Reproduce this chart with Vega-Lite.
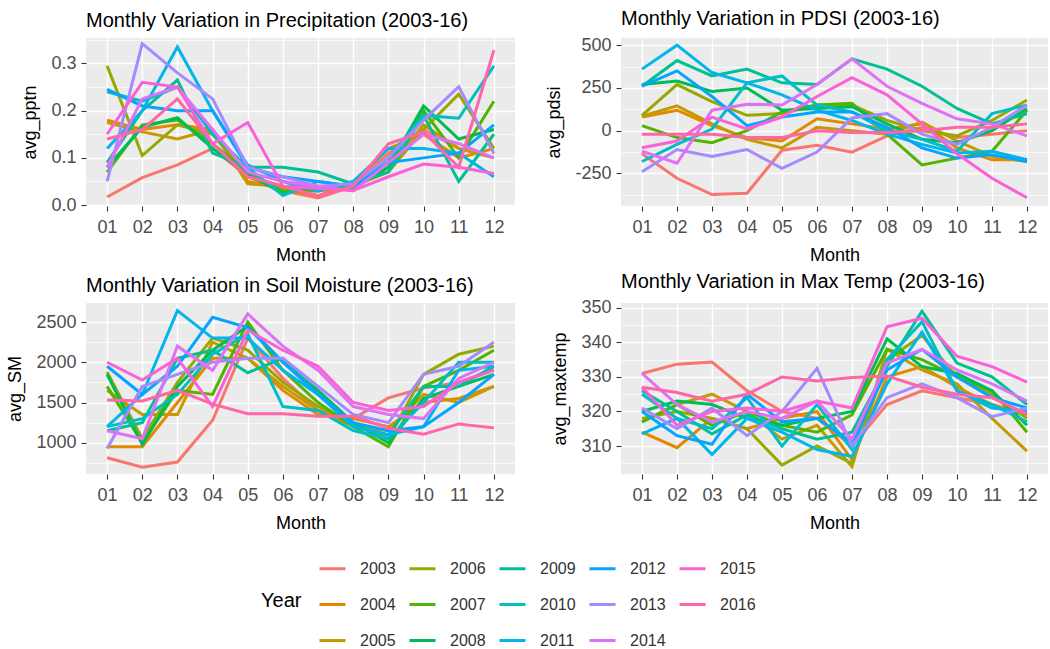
{
  "$schema": "https://vega.github.io/schema/vega-lite/v6.json",
  "padding": {"left": 6, "top": 9, "right": 0, "bottom": 0},
  "background": "white",
  "datasets": {
    "clim": [
      {"Year":"2003","Month":"01","pptn":0.017,"pdsi":-135,"SM":813,"maxtemp":331},
      {"Year":"2003","Month":"02","pptn":0.058,"pdsi":-278,"SM":697,"maxtemp":333.7},
      {"Year":"2003","Month":"03","pptn":0.085,"pdsi":-373,"SM":760,"maxtemp":334.3},
      {"Year":"2003","Month":"04","pptn":0.12,"pdsi":-365,"SM":1280,"maxtemp":326},
      {"Year":"2003","Month":"05","pptn":0.06,"pdsi":-114,"SM":2300,"maxtemp":320},
      {"Year":"2003","Month":"06","pptn":0.03,"pdsi":-85,"SM":1800,"maxtemp":318},
      {"Year":"2003","Month":"07","pptn":0.015,"pdsi":-125,"SM":1400,"maxtemp":310},
      {"Year":"2003","Month":"08","pptn":0.04,"pdsi":-30,"SM":1300,"maxtemp":322},
      {"Year":"2003","Month":"09","pptn":0.11,"pdsi":20,"SM":1557,"maxtemp":326},
      {"Year":"2003","Month":"10","pptn":0.16,"pdsi":-40,"SM":1681,"maxtemp":324},
      {"Year":"2003","Month":"11","pptn":0.12,"pdsi":-20,"SM":1750,"maxtemp":322},
      {"Year":"2003","Month":"12","pptn":0.10,"pdsi":0,"SM":1913,"maxtemp":319},
      {"Year":"2004","Month":"01","pptn":0.18,"pdsi":80,"SM":950,"maxtemp":314},
      {"Year":"2004","Month":"02","pptn":0.16,"pdsi":120,"SM":950,"maxtemp":309.5},
      {"Year":"2004","Month":"03","pptn":0.17,"pdsi":30,"SM":1500,"maxtemp":318},
      {"Year":"2004","Month":"04","pptn":0.16,"pdsi":-40,"SM":2050,"maxtemp":315},
      {"Year":"2004","Month":"05","pptn":0.05,"pdsi":-60,"SM":2050,"maxtemp":318},
      {"Year":"2004","Month":"06","pptn":0.035,"pdsi":70,"SM":1650,"maxtemp":320},
      {"Year":"2004","Month":"07","pptn":0.02,"pdsi":40,"SM":1350,"maxtemp":306},
      {"Year":"2004","Month":"08","pptn":0.045,"pdsi":10,"SM":1300,"maxtemp":330},
      {"Year":"2004","Month":"09","pptn":0.12,"pdsi":40,"SM":1200,"maxtemp":333},
      {"Year":"2004","Month":"10","pptn":0.15,"pdsi":-100,"SM":1500,"maxtemp":327},
      {"Year":"2004","Month":"11","pptn":0.10,"pdsi":-170,"SM":1550,"maxtemp":322},
      {"Year":"2004","Month":"12","pptn":0.12,"pdsi":-170,"SM":1700,"maxtemp":319},
      {"Year":"2005","Month":"01","pptn":0.175,"pdsi":85,"SM":1650,"maxtemp":317},
      {"Year":"2005","Month":"02","pptn":0.155,"pdsi":145,"SM":1350,"maxtemp":322},
      {"Year":"2005","Month":"03","pptn":0.14,"pdsi":40,"SM":1350,"maxtemp":325},
      {"Year":"2005","Month":"04","pptn":0.16,"pdsi":-50,"SM":2250,"maxtemp":320},
      {"Year":"2005","Month":"05","pptn":0.045,"pdsi":-100,"SM":2050,"maxtemp":312},
      {"Year":"2005","Month":"06","pptn":0.04,"pdsi":20,"SM":1700,"maxtemp":316},
      {"Year":"2005","Month":"07","pptn":0.03,"pdsi":0,"SM":1400,"maxtemp":304},
      {"Year":"2005","Month":"08","pptn":0.05,"pdsi":-20,"SM":1200,"maxtemp":338},
      {"Year":"2005","Month":"09","pptn":0.08,"pdsi":50,"SM":1150,"maxtemp":332},
      {"Year":"2005","Month":"10","pptn":0.17,"pdsi":-60,"SM":1600,"maxtemp":328},
      {"Year":"2005","Month":"11","pptn":0.12,"pdsi":-150,"SM":1500,"maxtemp":318},
      {"Year":"2005","Month":"12","pptn":0.10,"pdsi":-180,"SM":1700,"maxtemp":308.5},
      {"Year":"2006","Month":"01","pptn":0.295,"pdsi":90,"SM":1880,"maxtemp":318},
      {"Year":"2006","Month":"02","pptn":0.105,"pdsi":270,"SM":1050,"maxtemp":320},
      {"Year":"2006","Month":"03","pptn":0.17,"pdsi":170,"SM":1750,"maxtemp":318},
      {"Year":"2006","Month":"04","pptn":0.15,"pdsi":90,"SM":2300,"maxtemp":315},
      {"Year":"2006","Month":"05","pptn":0.06,"pdsi":100,"SM":2150,"maxtemp":304.5},
      {"Year":"2006","Month":"06","pptn":0.04,"pdsi":150,"SM":1750,"maxtemp":310},
      {"Year":"2006","Month":"07","pptn":0.035,"pdsi":150,"SM":1450,"maxtemp":305},
      {"Year":"2006","Month":"08","pptn":0.04,"pdsi":60,"SM":1250,"maxtemp":335},
      {"Year":"2006","Month":"09","pptn":0.07,"pdsi":0,"SM":1050,"maxtemp":342},
      {"Year":"2006","Month":"10","pptn":0.16,"pdsi":-30,"SM":1850,"maxtemp":330},
      {"Year":"2006","Month":"11","pptn":0.235,"pdsi":60,"SM":2100,"maxtemp":325},
      {"Year":"2006","Month":"12","pptn":0.12,"pdsi":180,"SM":2200,"maxtemp":318},
      {"Year":"2007","Month":"01","pptn":0.07,"pdsi":30,"SM":1700,"maxtemp":317},
      {"Year":"2007","Month":"02","pptn":0.17,"pdsi":-40,"SM":1000,"maxtemp":322},
      {"Year":"2007","Month":"03","pptn":0.18,"pdsi":-70,"SM":1650,"maxtemp":316},
      {"Year":"2007","Month":"04","pptn":0.13,"pdsi":0,"SM":1600,"maxtemp":320},
      {"Year":"2007","Month":"05","pptn":0.07,"pdsi":110,"SM":2500,"maxtemp":316},
      {"Year":"2007","Month":"06","pptn":0.03,"pdsi":150,"SM":1900,"maxtemp":314},
      {"Year":"2007","Month":"07","pptn":0.03,"pdsi":160,"SM":1500,"maxtemp":319},
      {"Year":"2007","Month":"08","pptn":0.04,"pdsi":-20,"SM":1200,"maxtemp":338},
      {"Year":"2007","Month":"09","pptn":0.09,"pdsi":-200,"SM":950,"maxtemp":335},
      {"Year":"2007","Month":"10","pptn":0.2,"pdsi":-160,"SM":1700,"maxtemp":330},
      {"Year":"2007","Month":"11","pptn":0.1,"pdsi":-120,"SM":1900,"maxtemp":326},
      {"Year":"2007","Month":"12","pptn":0.22,"pdsi":120,"SM":2150,"maxtemp":314},
      {"Year":"2008","Month":"01","pptn":0.08,"pdsi":270,"SM":1850,"maxtemp":320},
      {"Year":"2008","Month":"02","pptn":0.165,"pdsi":290,"SM":980,"maxtemp":323},
      {"Year":"2008","Month":"03","pptn":0.185,"pdsi":230,"SM":1700,"maxtemp":322},
      {"Year":"2008","Month":"04","pptn":0.12,"pdsi":250,"SM":2150,"maxtemp":318},
      {"Year":"2008","Month":"05","pptn":0.065,"pdsi":120,"SM":2450,"maxtemp":316},
      {"Year":"2008","Month":"06","pptn":0.025,"pdsi":130,"SM":2000,"maxtemp":318},
      {"Year":"2008","Month":"07","pptn":0.04,"pdsi":140,"SM":1650,"maxtemp":320},
      {"Year":"2008","Month":"08","pptn":0.035,"pdsi":40,"SM":1250,"maxtemp":341},
      {"Year":"2008","Month":"09","pptn":0.08,"pdsi":-50,"SM":1000,"maxtemp":333},
      {"Year":"2008","Month":"10","pptn":0.21,"pdsi":-70,"SM":1550,"maxtemp":331},
      {"Year":"2008","Month":"11","pptn":0.14,"pdsi":0,"SM":1700,"maxtemp":326},
      {"Year":"2008","Month":"12","pptn":0.16,"pdsi":130,"SM":1850,"maxtemp":316},
      {"Year":"2009","Month":"01","pptn":0.09,"pdsi":260,"SM":1150,"maxtemp":326},
      {"Year":"2009","Month":"02","pptn":0.2,"pdsi":410,"SM":1250,"maxtemp":320},
      {"Year":"2009","Month":"03","pptn":0.265,"pdsi":320,"SM":2050,"maxtemp":313.5},
      {"Year":"2009","Month":"04","pptn":0.11,"pdsi":360,"SM":2150,"maxtemp":319},
      {"Year":"2009","Month":"05","pptn":0.08,"pdsi":280,"SM":1870,"maxtemp":315},
      {"Year":"2009","Month":"06","pptn":0.08,"pdsi":270,"SM":2050,"maxtemp":312},
      {"Year":"2009","Month":"07","pptn":0.07,"pdsi":420,"SM":1600,"maxtemp":314},
      {"Year":"2009","Month":"08","pptn":0.045,"pdsi":360,"SM":1200,"maxtemp":333},
      {"Year":"2009","Month":"09","pptn":0.07,"pdsi":260,"SM":1100,"maxtemp":349},
      {"Year":"2009","Month":"10","pptn":0.19,"pdsi":130,"SM":1700,"maxtemp":334},
      {"Year":"2009","Month":"11","pptn":0.05,"pdsi":40,"SM":1700,"maxtemp":330},
      {"Year":"2009","Month":"12","pptn":0.15,"pdsi":100,"SM":1950,"maxtemp":322},
      {"Year":"2010","Month":"01","pptn":0.24,"pdsi":-180,"SM":1200,"maxtemp":325},
      {"Year":"2010","Month":"02","pptn":0.22,"pdsi":-80,"SM":1300,"maxtemp":318},
      {"Year":"2010","Month":"03","pptn":0.25,"pdsi":10,"SM":1600,"maxtemp":315},
      {"Year":"2010","Month":"04","pptn":0.15,"pdsi":280,"SM":2100,"maxtemp":324},
      {"Year":"2010","Month":"05","pptn":0.08,"pdsi":320,"SM":2350,"maxtemp":310},
      {"Year":"2010","Month":"06","pptn":0.02,"pdsi":150,"SM":1450,"maxtemp":322},
      {"Year":"2010","Month":"07","pptn":0.05,"pdsi":110,"SM":1400,"maxtemp":309},
      {"Year":"2010","Month":"08","pptn":0.04,"pdsi":0,"SM":1150,"maxtemp":335},
      {"Year":"2010","Month":"09","pptn":0.1,"pdsi":-50,"SM":1050,"maxtemp":346},
      {"Year":"2010","Month":"10","pptn":0.19,"pdsi":-120,"SM":1500,"maxtemp":326},
      {"Year":"2010","Month":"11","pptn":0.184,"pdsi":100,"SM":2000,"maxtemp":322},
      {"Year":"2010","Month":"12","pptn":0.295,"pdsi":150,"SM":2000,"maxtemp":317},
      {"Year":"2011","Month":"01","pptn":0.12,"pdsi":360,"SM":1200,"maxtemp":313.5},
      {"Year":"2011","Month":"02","pptn":0.2,"pdsi":500,"SM":1600,"maxtemp":318},
      {"Year":"2011","Month":"03","pptn":0.335,"pdsi":340,"SM":2641,"maxtemp":307.5},
      {"Year":"2011","Month":"04","pptn":0.2,"pdsi":280,"SM":2300,"maxtemp":318},
      {"Year":"2011","Month":"05","pptn":0.085,"pdsi":210,"SM":2300,"maxtemp":314},
      {"Year":"2011","Month":"06","pptn":0.05,"pdsi":120,"SM":1900,"maxtemp":309},
      {"Year":"2011","Month":"07","pptn":0.03,"pdsi":60,"SM":1600,"maxtemp":307},
      {"Year":"2011","Month":"08","pptn":0.05,"pdsi":-20,"SM":1200,"maxtemp":328},
      {"Year":"2011","Month":"09","pptn":0.12,"pdsi":-80,"SM":1100,"maxtemp":343},
      {"Year":"2011","Month":"10","pptn":0.12,"pdsi":-130,"SM":1200,"maxtemp":326},
      {"Year":"2011","Month":"11","pptn":0.11,"pdsi":-120,"SM":1900,"maxtemp":321},
      {"Year":"2011","Month":"12","pptn":0.06,"pdsi":-170,"SM":1950,"maxtemp":320},
      {"Year":"2012","Month":"01","pptn":0.245,"pdsi":260,"SM":1950,"maxtemp":320},
      {"Year":"2012","Month":"02","pptn":0.21,"pdsi":350,"SM":1600,"maxtemp":313},
      {"Year":"2012","Month":"03","pptn":0.2,"pdsi":200,"SM":1950,"maxtemp":310.5},
      {"Year":"2012","Month":"04","pptn":0.2,"pdsi":30,"SM":2558,"maxtemp":325},
      {"Year":"2012","Month":"05","pptn":0.08,"pdsi":80,"SM":2430,"maxtemp":317},
      {"Year":"2012","Month":"06","pptn":0.06,"pdsi":110,"SM":2000,"maxtemp":318},
      {"Year":"2012","Month":"07","pptn":0.05,"pdsi":110,"SM":1600,"maxtemp":311},
      {"Year":"2012","Month":"08","pptn":0.04,"pdsi":20,"SM":1250,"maxtemp":332},
      {"Year":"2012","Month":"09","pptn":0.09,"pdsi":-100,"SM":1150,"maxtemp":338},
      {"Year":"2012","Month":"10","pptn":0.1,"pdsi":-160,"SM":1200,"maxtemp":330},
      {"Year":"2012","Month":"11","pptn":0.11,"pdsi":-140,"SM":1500,"maxtemp":324},
      {"Year":"2012","Month":"12","pptn":0.17,"pdsi":-180,"SM":1850,"maxtemp":321},
      {"Year":"2013","Month":"01","pptn":0.05,"pdsi":-240,"SM":930,"maxtemp":321},
      {"Year":"2013","Month":"02","pptn":0.342,"pdsi":-110,"SM":1700,"maxtemp":315},
      {"Year":"2013","Month":"03","pptn":0.28,"pdsi":-150,"SM":1850,"maxtemp":321},
      {"Year":"2013","Month":"04","pptn":0.225,"pdsi":-110,"SM":2000,"maxtemp":313},
      {"Year":"2013","Month":"05","pptn":0.08,"pdsi":-220,"SM":2050,"maxtemp":320},
      {"Year":"2013","Month":"06","pptn":0.06,"pdsi":-125,"SM":2050,"maxtemp":332.5},
      {"Year":"2013","Month":"07","pptn":0.04,"pdsi":75,"SM":1700,"maxtemp":310},
      {"Year":"2013","Month":"08","pptn":0.045,"pdsi":100,"SM":1350,"maxtemp":324},
      {"Year":"2013","Month":"09","pptn":0.1,"pdsi":-20,"SM":1250,"maxtemp":328},
      {"Year":"2013","Month":"10","pptn":0.18,"pdsi":-80,"SM":1850,"maxtemp":324},
      {"Year":"2013","Month":"11","pptn":0.251,"pdsi":20,"SM":1950,"maxtemp":318.5},
      {"Year":"2013","Month":"12","pptn":0.109,"pdsi":150,"SM":2250,"maxtemp":321},
      {"Year":"2014","Month":"01","pptn":0.08,"pdsi":-120,"SM":1150,"maxtemp":331},
      {"Year":"2014","Month":"02","pptn":0.225,"pdsi":-190,"SM":1050,"maxtemp":322},
      {"Year":"2014","Month":"03","pptn":0.25,"pdsi":120,"SM":2200,"maxtemp":317},
      {"Year":"2014","Month":"04","pptn":0.16,"pdsi":155,"SM":1900,"maxtemp":320},
      {"Year":"2014","Month":"05","pptn":0.07,"pdsi":150,"SM":2600,"maxtemp":318},
      {"Year":"2014","Month":"06","pptn":0.05,"pdsi":270,"SM":2200,"maxtemp":323},
      {"Year":"2014","Month":"07","pptn":0.04,"pdsi":420,"SM":1900,"maxtemp":312},
      {"Year":"2014","Month":"08","pptn":0.03,"pdsi":260,"SM":1450,"maxtemp":334},
      {"Year":"2014","Month":"09","pptn":0.09,"pdsi":160,"SM":1350,"maxtemp":338},
      {"Year":"2014","Month":"10","pptn":0.15,"pdsi":70,"SM":1300,"maxtemp":332},
      {"Year":"2014","Month":"11","pptn":0.13,"pdsi":40,"SM":1800,"maxtemp":328},
      {"Year":"2014","Month":"12","pptn":0.10,"pdsi":-30,"SM":2000,"maxtemp":323},
      {"Year":"2015","Month":"01","pptn":0.15,"pdsi":-100,"SM":2000,"maxtemp":327},
      {"Year":"2015","Month":"02","pptn":0.26,"pdsi":-60,"SM":1780,"maxtemp":316},
      {"Year":"2015","Month":"03","pptn":0.25,"pdsi":80,"SM":2050,"maxtemp":320},
      {"Year":"2015","Month":"04","pptn":0.13,"pdsi":10,"SM":1450,"maxtemp":321},
      {"Year":"2015","Month":"05","pptn":0.175,"pdsi":80,"SM":2400,"maxtemp":320},
      {"Year":"2015","Month":"06","pptn":0.04,"pdsi":200,"SM":2150,"maxtemp":323},
      {"Year":"2015","Month":"07","pptn":0.035,"pdsi":310,"SM":1950,"maxtemp":321},
      {"Year":"2015","Month":"08","pptn":0.031,"pdsi":210,"SM":1500,"maxtemp":344.5},
      {"Year":"2015","Month":"09","pptn":0.06,"pdsi":40,"SM":1400,"maxtemp":347},
      {"Year":"2015","Month":"10","pptn":0.087,"pdsi":-135,"SM":1450,"maxtemp":336},
      {"Year":"2015","Month":"11","pptn":0.08,"pdsi":-278,"SM":1750,"maxtemp":333},
      {"Year":"2015","Month":"12","pptn":0.067,"pdsi":-392,"SM":1900,"maxtemp":328.5},
      {"Year":"2016","Month":"01","pptn":0.14,"pdsi":-20,"SM":1530,"maxtemp":327},
      {"Year":"2016","Month":"02","pptn":0.16,"pdsi":-20,"SM":1520,"maxtemp":325.5},
      {"Year":"2016","Month":"03","pptn":0.225,"pdsi":-20,"SM":1650,"maxtemp":323},
      {"Year":"2016","Month":"04","pptn":0.13,"pdsi":-40,"SM":1480,"maxtemp":325},
      {"Year":"2016","Month":"05","pptn":0.06,"pdsi":-40,"SM":1360,"maxtemp":330},
      {"Year":"2016","Month":"06","pptn":0.04,"pdsi":0,"SM":1360,"maxtemp":328.8},
      {"Year":"2016","Month":"07","pptn":0.02,"pdsi":-10,"SM":1330,"maxtemp":329.8},
      {"Year":"2016","Month":"08","pptn":0.04,"pdsi":-10,"SM":1330,"maxtemp":330.3},
      {"Year":"2016","Month":"09","pptn":0.13,"pdsi":0,"SM":1180,"maxtemp":327},
      {"Year":"2016","Month":"10","pptn":0.155,"pdsi":20,"SM":1107,"maxtemp":325},
      {"Year":"2016","Month":"11","pptn":0.08,"pdsi":20,"SM":1234,"maxtemp":324},
      {"Year":"2016","Month":"12","pptn":0.328,"pdsi":40,"SM":1185,"maxtemp":319.2}
    ]
  },
  "data": {"name": "clim"},
  "config": {
    "font": "Liberation Sans",
    "view": {"fill": "#EBEBEB", "stroke": null},
    "axis": {
      "domain": false,
      "gridColor": "white",
      "gridWidth": 1.4,
      "tickColor": "#333333",
      "tickSize": 5,
      "tickWidth": 1.1,
      "labelColor": "#4D4D4D",
      "labelFontSize": 18,
      "titleFontSize": 18,
      "titleFontWeight": "normal",
      "titleColor": "black"
    },
    "axisX": {"labelPadding": 7, "titlePadding": 10},
    "axisY": {"labelPadding": 5, "titlePadding": 11},
    "title": {"fontSize": 20, "fontWeight": "normal", "anchor": "start", "frame": "group", "color": "black", "offset": 7},
    "line": {"strokeWidth": 3}
  },
  "columns": 2,
  "align": "each",
  "spacing": {"row": 7, "column": 30},
  "concat": [
    {
      "width": 429, "height": 168,
      "title": "Monthly Variation in Precipitation (2003-16)",
      "mark": "line",
      "encoding": {
        "x": {"field": "Month", "type": "ordinal", "scale": {"type": "point", "padding": 0.6}, "axis": {"title": "Month", "labelAngle": 0, "grid": true}},
        "y": {"field": "pptn", "type": "quantitative", "scale": {"domain": [-0.002, 0.354], "nice": false, "zero": false},
          "axis": {"title": "avg_pptn", "values": [0, 0.05, 0.1, 0.15, 0.2, 0.25, 0.3, 0.35],
            "labelExpr": "abs(datum.value*10 - round(datum.value*10)) < 0.001 ? format(datum.value, '.1f') : ''",
            "gridWidth": {"condition": {"test": "abs(datum.value*10 - round(datum.value*10)) < 0.001", "value": 1.4}, "value": 0.7},
            "tickOpacity": {"condition": {"test": "abs(datum.value*10 - round(datum.value*10)) < 0.001", "value": 1}, "value": 0}}},
        "color": {"field": "Year", "type": "nominal",
          "scale": {"domain": ["2003","2006","2009","2012","2015","2004","2007","2010","2013","2016","2005","2008","2011","2014"],
                    "range": ["#F8766D","#99A800","#00C094","#06A4FF","#FB61D7","#E38900","#53B400","#00BFC4","#A58AFF","#FF66A8","#C49A00","#00BC56","#00B6EB","#DF70F8"]},
          "legend": {"title": "Year", "orient": "none", "legendX": 175, "legendY": 516, "columns": 5, "direction": "horizontal",
            "symbolType": "stroke", "symbolSize": 676, "symbolStrokeWidth": 3, "labelFontSize": 16, "labelColor": "#333333",
            "titleFontSize": 20, "titleFontWeight": "normal", "titleColor": "black", "titleOrient": "left", "titleAnchor": "middle", "titleBaseline": "middle", "titlePadding": 16,
            "rowPadding": 13, "columnPadding": 7, "labelOffset": 13}}
      }
    },
    {
      "width": 427, "height": 168,
      "title": "Monthly Variation in PDSI (2003-16)",
      "mark": "line",
      "encoding": {
        "x": {"field": "Month", "type": "ordinal", "scale": {"type": "point", "padding": 0.6}, "axis": {"title": "Month", "labelAngle": 0, "grid": true}},
        "y": {"field": "pdsi", "type": "quantitative", "scale": {"domain": [-440, 542], "nice": false, "zero": false},
          "axis": {"title": "avg_pdsi", "values": [-375, -250, -125, 0, 125, 250, 375, 500],
            "labelExpr": "datum.value % 250 == 0 ? '' + datum.value : ''",
            "gridWidth": {"condition": {"test": "datum.value % 250 == 0", "value": 1.4}, "value": 0.7},
            "tickOpacity": {"condition": {"test": "datum.value % 250 == 0", "value": 1}, "value": 0}}},
        "color": {"field": "Year", "type": "nominal"}
      }
    },
    {
      "width": 429, "height": 171,
      "title": "Monthly Variation in Soil Moisture (2003-16)",
      "mark": "line",
      "encoding": {
        "x": {"field": "Month", "type": "ordinal", "scale": {"type": "point", "padding": 0.6}, "axis": {"title": "Month", "labelAngle": 0, "grid": true}},
        "y": {"field": "SM", "type": "quantitative", "scale": {"domain": [612, 2736], "nice": false, "zero": false},
          "axis": {"title": "avg_SM", "values": [750, 1000, 1250, 1500, 1750, 2000, 2250, 2500],
            "labelExpr": "datum.value % 500 == 0 ? '' + datum.value : ''",
            "gridWidth": {"condition": {"test": "datum.value % 500 == 0", "value": 1.4}, "value": 0.7},
            "tickOpacity": {"condition": {"test": "datum.value % 500 == 0", "value": 1}, "value": 0}}},
        "color": {"field": "Year", "type": "nominal"}
      }
    },
    {
      "width": 427, "height": 171,
      "title": "Monthly Variation in Max Temp (2003-16)",
      "mark": "line",
      "encoding": {
        "x": {"field": "Month", "type": "ordinal", "scale": {"type": "point", "padding": 0.6}, "axis": {"title": "Month", "labelAngle": 0, "grid": true}},
        "y": {"field": "maxtemp", "type": "quantitative", "scale": {"domain": [301.9, 351.4], "nice": false, "zero": false},
          "axis": {"title": "avg_maxtemp", "values": [305, 310, 315, 320, 325, 330, 335, 340, 345, 350],
            "labelExpr": "datum.value % 10 == 0 ? '' + datum.value : ''",
            "gridWidth": {"condition": {"test": "datum.value % 10 == 0", "value": 1.4}, "value": 0.7},
            "tickOpacity": {"condition": {"test": "datum.value % 10 == 0", "value": 1}, "value": 0}}},
        "color": {"field": "Year", "type": "nominal"}
      }
    }
  ]
}
